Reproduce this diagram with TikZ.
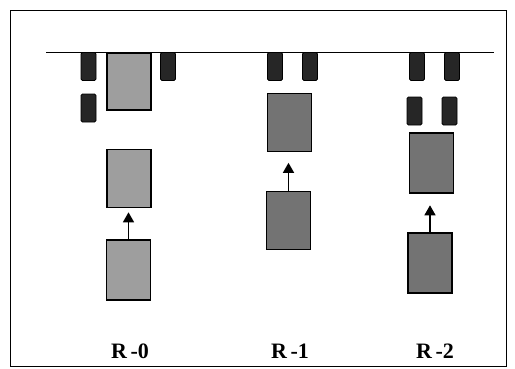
\documentclass[tikz,border=0pt]{standalone}
\usepackage{fontspec}
\setmainfont{Liberation Serif}
\usetikzlibrary{arrows.meta}
\begin{document}
\begin{tikzpicture}[x=1pt,y=-1pt,
  bigbox/.style={draw=black,line width=1.4pt,fill=black!38,minimum width=44pt,minimum height=58pt,inner sep=0pt},
  darkbig/.style={bigbox,fill=black!55},
  pin/.style={draw=black,line width=0.8pt,fill=black!85,minimum width=15pt,minimum height=28pt,inner sep=0pt,rounded corners=1.5pt},
  lbl/.style={font=\bfseries\fontsize{22}{26}\selectfont},
  up/.style={-{Triangle[length=10pt,width=11pt]},line width=1.5pt}]
\useasboundingbox (0,0) rectangle (515,368);
\draw[line width=0.8pt] (10,10) rectangle (506,366);
\coordinate (la) at (46,52);
\coordinate (lb) at (494,52);
\draw[line width=1pt] (la) -- (lb);
% R-0
\node[pin] (p01) at (88.5,66.5) {};
\node[pin] (p02) at (88.5,108) {};
\node[pin] (p03) at (168,66.5) {};
\node[bigbox,minimum height=57pt] (a0) at (129,81.5) {};
\node[bigbox] (b0) at (129,178.5) {};
\node[bigbox,minimum height=60pt] (c0) at (128.5,270) {};
\draw[up] (c0.north) -- ++(0,-27);
% R-1
\node[pin] (p11) at (275,66.5) {};
\node[pin] (p12) at (310,66.5) {};
\node[darkbig] (a1) at (289.5,122.5) {};
\node[darkbig] (b1) at (288.5,220.5) {};
\draw[up] (b1.north) -- ++(0,-28);
% R-2
\node[pin] (p21) at (417,66.5) {};
\node[pin] (p22) at (452,66.5) {};
\node[pin] (p23) at (414.5,111) {};
\node[pin] (p24) at (449.5,111) {};
\node[darkbig,minimum height=60pt] (a2) at (431.5,163) {};
\node[darkbig,minimum height=60pt] (b2) at (430,263) {};
\draw[up] (b2.north) -- ++(0,-27);
% labels
\node[lbl] (l0) at (130,351) {R\,-0};
\node[lbl] (l1) at (290,351) {R\,-1};
\node[lbl] (l2) at (435,351) {R\,-2};
\end{tikzpicture}
\end{document}
